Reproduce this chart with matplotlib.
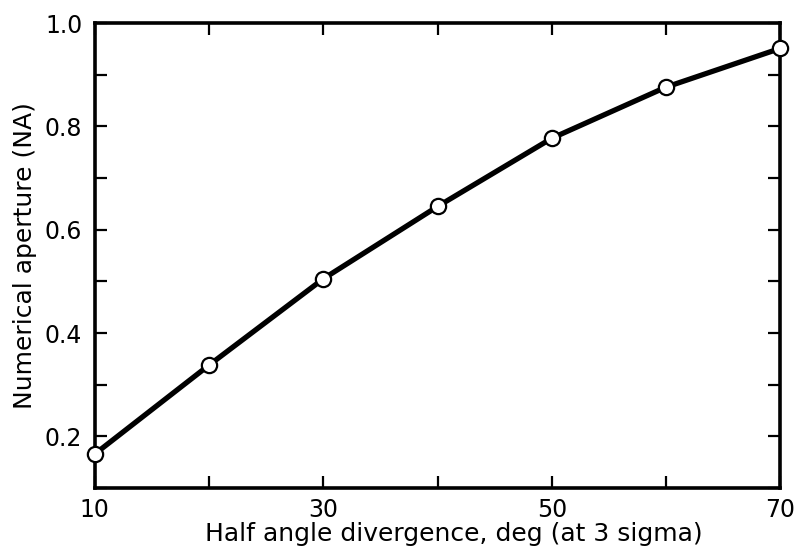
import numpy as np
import matplotlib
matplotlib.use("Agg")
import matplotlib.pyplot as plt
from matplotlib.ticker import MultipleLocator, FormatStrFormatter

# half angle divergence (deg) vs numerical aperture
angle = [10, 20, 30, 40, 50, 60, 70]
na = [0.166, 0.338, 0.505, 0.645, 0.777, 0.876, 0.951]

xmajor = [10, 30, 50, 70]
xminor = [20, 40, 60]

plt.rcParams['font.family'] = ['DejaVu Sans']

fig = plt.figure(figsize=(7.97, 5.49), dpi=100)
ax = fig.add_axes([0.119, 0.111, 0.860, 0.847])

ax.plot(angle, na, color='black', lw=3.8, marker='o', markersize=11,
        markerfacecolor='white', markeredgecolor='black', markeredgewidth=1.6,
        clip_on=False, zorder=3)

ax.set_xlim(10, 70)
ax.set_ylim(0.1, 1.0)

ax.set_xticks(xmajor)
ax.set_xticks(xminor, minor=True)
ax.yaxis.set_major_locator(MultipleLocator(0.2))
ax.yaxis.set_minor_locator(MultipleLocator(0.1))
ax.xaxis.set_major_formatter(FormatStrFormatter('%d'))
ax.yaxis.set_major_formatter(FormatStrFormatter('%.1f'))

ax.tick_params(which='both', direction='in', top=True, right=True,
               length=8.5, width=1.6, labelsize=17)
ax.tick_params(axis='x', pad=7)
ax.tick_params(axis='y', pad=9)

for sp in ax.spines.values():
    sp.set_linewidth(2.6)

ax.set_xlabel('Half angle divergence, deg (at 3 sigma)', fontsize=18, labelpad=0)
ax.xaxis.label.set_x(0.523)
ax.set_ylabel('Numerical aperture (NA)', fontsize=18, labelpad=6)

fig.savefig('out.png', dpi=100)
